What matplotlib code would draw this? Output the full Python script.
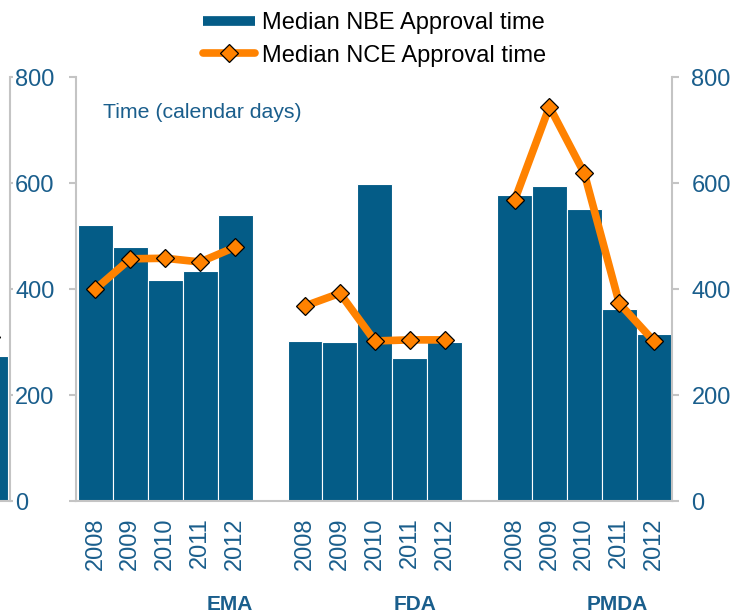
import numpy as np
import matplotlib.pyplot as plt
from matplotlib.lines import Line2D
from matplotlib.transforms import blended_transform_factory

plt.rcParams['font.family'] = ['Liberation Sans', 'DejaVu Sans']

# data
agencies = ['EMA', 'FDA', 'PMDA']
years = ['2008', '2009', '2010', '2011', '2012']
nbe_ema = [521, 479, 417, 434, 540]
nbe_fda = [302, 300, 598, 270, 300]
nbe_pmda = [577, 594, 551, 362, 316]
nce_ema = [400, 457, 458, 451, 479]
nce_fda = [368, 392, 302, 304, 304]
nce_pmda = [567, 744, 618, 373, 301]
# last year of the neighbouring (cut off) panel on the left
prev_year = ['2012']
prev_nbe = [274]
prev_nce = [309]
yticks = [0, 200, 400, 600, 800]

BLUE = '#045C87'
ORANGE = '#FF8200'
TXT = '#1A5E8C'
GREY = '#C4C4C4'

W, H = 739, 616
fig = plt.figure(figsize=(W / 100, H / 100), dpi=100)

# main panel
ax = fig.add_axes([76 / W, (H - 501) / H, (672 - 76) / W, (501 - 77) / H])
nbe = [nbe_ema, nbe_fda, nbe_pmda]
nce = [nce_ema, nce_fda, nce_pmda]
xt, xl = [], []
for g in range(3):
    x = np.arange(5) + 6 * g
    ax.bar(x, nbe[g], width=1.0, color=BLUE, edgecolor='white', linewidth=0.8, zorder=2)
    ax.plot(x, nce[g], color=ORANGE, lw=5.5, marker='D', ms=9, mfc=ORANGE,
            mec='black', mew=0.9, zorder=3, solid_capstyle='butt')
    xt += list(x)
    xl += years

ax.set_xlim(-0.557, 16.51)
ax.set_ylim(0, 800)
ax.set_yticks(yticks)
ax.set_xticks(xt)
ax.set_xticklabels(xl, rotation=90, fontsize=17, color=TXT)
ax.tick_params(axis='x', length=0, pad=12)
ax.tick_params(axis='y', left=True, right=True, labelleft=False, labelright=True,
               direction='out', length=5, width=1.5, color=GREY, labelsize=17,
               labelcolor=TXT, pad=9)
ax.spines['top'].set_visible(False)
for s in ['left', 'right', 'bottom']:
    ax.spines[s].set_color(GREY)
    ax.spines[s].set_linewidth(1.5)

fig.text(103 / W, 1 - 112 / H, 'Time (calendar days)', fontsize=15.3, color=TXT,
         ha='left', va='center')

group_label_x = [3.85, 9.15, 14.95]
trans = blended_transform_factory(ax.transData, fig.transFigure)
for lx, name in zip(group_label_x, agencies):
    ax.text(lx, 1 - 605 / H, name, transform=trans, fontsize=15,
            fontweight='bold', color=TXT, ha='center', va='center')

# cut-off neighbour panel on the left
axp = fig.add_axes([-30 / W, (H - 501) / H, 39.5 / W, (501 - 77) / H])
axp.bar([16], prev_nbe, width=1.0, color=BLUE, edgecolor='white', linewidth=0.8)
axp.plot([16], prev_nce, ls='none', marker='D', ms=9, mfc=ORANGE, mec='black', mew=0.9)
axp.set_xlim(15.41, 16.54)
axp.set_ylim(0, 800)
axp.set_yticks(yticks)
axp.set_xticks([16])
axp.set_xticklabels(prev_year, rotation=90, fontsize=17, color=TXT)
axp.tick_params(axis='x', length=0, pad=12)
axp.tick_params(axis='y', left=False, right=True, labelleft=False, labelright=True,
                direction='out', length=2.5, width=1.5, color=GREY, labelsize=17,
                labelcolor=TXT, pad=1.5)
axp.spines['top'].set_visible(False)
axp.spines['left'].set_visible(False)
for s in ['right', 'bottom']:
    axp.spines[s].set_color(GREY)
    axp.spines[s].set_linewidth(1.5)

handles = [
    Line2D([], [], color=BLUE, lw=7, solid_capstyle='butt'),
    Line2D([], [], color=ORANGE, lw=5.5, marker='D', ms=9, mfc=ORANGE, mec='black',
           mew=0.9, solid_capstyle='round'),
]
fig.legend(handles, ['Median NBE Approval time', 'Median NCE Approval time'],
           loc='upper left', bbox_to_anchor=(203 / W, 1 - 12 / H), frameon=False,
           fontsize=17, handlelength=2.2, handletextpad=0.3, labelspacing=0.45,
           borderpad=0, borderaxespad=0)

fig.savefig('out.png', dpi=100)
